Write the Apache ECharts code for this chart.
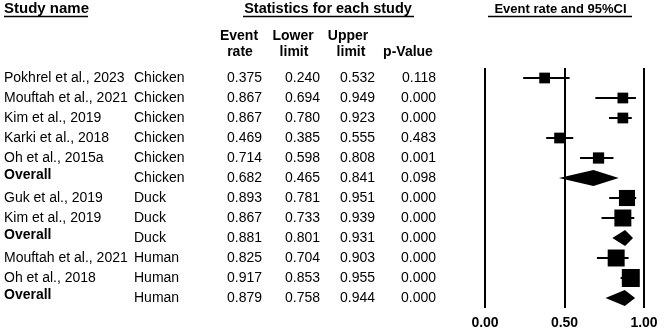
<!DOCTYPE html>
<html><head><meta charset="utf-8">
<script src="https://cdn.jsdelivr.net/npm/echarts@6/dist/echarts.min.js"></script>
<style>html,body{margin:0;padding:0;background:#fff}#c{width:665px;height:330px}</style>
</head><body><div id="c"></div>
<script>
// ---- data ----
const studyNames = ['Pokhrel et al., 2023','Mouftah et al., 2021','Kim et al., 2019','Karki et al., 2018','Oh et al., 2015a','Overall','Guk et al., 2019','Kim et al., 2019','Overall','Mouftah et al., 2021','Oh et al., 2018','Overall'];
const subgroups = ['Chicken','Chicken','Chicken','Chicken','Chicken','Chicken','Duck','Duck','Duck','Human','Human','Human'];
const eventRate = [0.375,0.867,0.867,0.469,0.714,0.682,0.893,0.867,0.881,0.825,0.917,0.879];
const lowerLimit = [0.240,0.694,0.780,0.385,0.598,0.465,0.781,0.733,0.801,0.704,0.853,0.758];
const upperLimit = [0.532,0.949,0.923,0.555,0.808,0.841,0.951,0.939,0.931,0.903,0.955,0.944];
const pValue = ['0.118','0.000','0.000','0.483','0.001','0.098','0.000','0.000','0.000','0.000','0.000','0.000'];
const isOverall = [false,false,false,false,false,true,false,false,true,false,false,true];
const relWeight = [20,20,20,20,22,0,45,50,0,50,56,0];
const xTicks = [0, 0.5, 1];
const colHeaders1 = ['Event','Lower','Upper'];
const colHeaders2 = ['rate','limit','limit','p-Value'];

// ---- layout / style ----
const FF = '"Liberation Sans", Arial, sans-serif';
const nRows = studyNames.length;
const colX = {name: 4, group: 134, er: 262, ll: 320, ul: 375, p: 436};

const chart = echarts.init(document.getElementById('c'), null, {renderer: 'canvas'});

const rowsData = studyNames.map((n, i) => [i, eventRate[i], lowerLimit[i], upperLimit[i], relWeight[i], isOverall[i] ? 1 : 0]);

function forestItem(params, api) {
  const i = api.value(0);
  const er = api.value(1), ll = api.value(2), ul = api.value(3), w = api.value(4), ov = api.value(5);
  const c = api.coord([er, i]);
  const l = api.coord([ll, i]);
  const u = api.coord([ul, i]);
  if (ov) {
    const h = 8;
    return {type: 'polygon', shape: {points: [[l[0], c[1]], [c[0], c[1] - h], [u[0], c[1]], [c[0], c[1] + h]]}, style: {fill: '#000'}};
  }
  const s = 2.4 * Math.sqrt(w);
  return {type: 'group', children: [
    {type: 'line', shape: {x1: l[0], y1: c[1], x2: u[0], y2: c[1]}, style: {stroke: '#000', lineWidth: 2}},
    {type: 'rect', shape: {x: c[0] - s / 2, y: c[1] - s / 2, width: s, height: s}, style: {fill: '#000'}}
  ]};
}

function tableItem(params, api) {
  const i = api.value(0);
  const y = api.coord([0, i])[1];
  const ov = isOverall[i];
  const f = '14px ' + FF;
  const t = (text, x, align, font, dy) => ({type: 'text', style: {text: text, x: x, y: y + (dy || 0), align: align, verticalAlign: 'middle', font: font, fill: '#000'}});
  return {type: 'group', children: [
    t(studyNames[i], colX.name, 'left', ov ? 'bold 14px ' + FF : f, ov ? -3 : 0),
    t(subgroups[i], colX.group, 'left', f),
    t(eventRate[i].toFixed(3), colX.er, 'right', f),
    t(lowerLimit[i].toFixed(3), colX.ll, 'right', f),
    t(upperLimit[i].toFixed(3), colX.ul, 'right', f),
    t(pValue[i], colX.p, 'right', f)
  ]};
}

const hb = 'bold 14px ' + FF;
const graphics = [
  {type: 'text', left: 4, top: 1, style: {text: 'Study name', font: 'bold 15px ' + FF, fill: '#000'}},
  {type: 'line', shape: {x1: 4, y1: 16.5, x2: 88, y2: 16.5}, style: {stroke: '#000', lineWidth: 1.5}},
  {type: 'text', x: 328, y: 9, style: {text: 'Statistics for each study', font: 'bold 14.5px ' + FF, fill: '#000', align: 'center', verticalAlign: 'middle'}},
  {type: 'line', shape: {x1: 243, y1: 16.5, x2: 414, y2: 16.5}, style: {stroke: '#000', lineWidth: 1.5}},
  {type: 'text', x: 560.5, y: 9, style: {text: 'Event rate and 95%CI', font: 'bold 13px ' + FF, fill: '#000', align: 'center', verticalAlign: 'middle'}},
  {type: 'line', shape: {x1: 488, y1: 16.5, x2: 632, y2: 16.5}, style: {stroke: '#000', lineWidth: 1.5}},
  {type: 'text', x: 239, y: 36, style: {text: colHeaders1[0], font: hb, fill: '#000', align: 'center', verticalAlign: 'middle'}},
  {type: 'text', x: 293, y: 36, style: {text: colHeaders1[1], font: hb, fill: '#000', align: 'center', verticalAlign: 'middle'}},
  {type: 'text', x: 348, y: 36, style: {text: colHeaders1[2], font: hb, fill: '#000', align: 'center', verticalAlign: 'middle'}},
  {type: 'text', x: 240, y: 52.5, style: {text: colHeaders2[0], font: hb, fill: '#000', align: 'center', verticalAlign: 'middle'}},
  {type: 'text', x: 294, y: 52.5, style: {text: colHeaders2[1], font: hb, fill: '#000', align: 'center', verticalAlign: 'middle'}},
  {type: 'text', x: 351, y: 52.5, style: {text: colHeaders2[2], font: hb, fill: '#000', align: 'center', verticalAlign: 'middle'}},
  {type: 'text', x: 408, y: 52.5, style: {text: colHeaders2[3], font: hb, fill: '#000', align: 'center', verticalAlign: 'middle'}}
];

chart.setOption({
  animation: false,
  backgroundColor: '#fff',
  grid: [
    {left: 485, width: 159, top: 68, height: 240},
    {left: 0, width: 665, top: 68, height: 240}
  ],
  xAxis: [
    {gridIndex: 0, type: 'value', min: xTicks[0], max: xTicks[xTicks.length - 1], interval: 0.5,
     axisLine: {show: false}, axisTick: {show: false},
     splitLine: {show: true, showMinLine: true, showMaxLine: true, lineStyle: {color: '#000', width: 2}},
     axisLabel: {show: true, margin: 8, fontFamily: FF, fontSize: 14, fontWeight: 'bold', color: '#000', formatter: v => v.toFixed(2)}},
    {gridIndex: 1, type: 'value', min: 0, max: 665, show: false}
  ],
  yAxis: [
    {gridIndex: 0, type: 'value', min: -0.5, max: nRows - 0.5, inverse: true, show: false},
    {gridIndex: 1, type: 'value', min: -0.5, max: nRows - 0.5, inverse: true, show: false}
  ],
  graphic: graphics,
  series: [
    {type: 'custom', xAxisIndex: 0, yAxisIndex: 0, data: rowsData, renderItem: forestItem, encode: {x: [1, 2, 3], y: 0}, clip: false, silent: true, z: 5},
    {type: 'custom', xAxisIndex: 1, yAxisIndex: 1, data: rowsData, renderItem: tableItem, encode: {y: 0}, clip: false, silent: true, z: 5}
  ]
});
</script></body></html>
